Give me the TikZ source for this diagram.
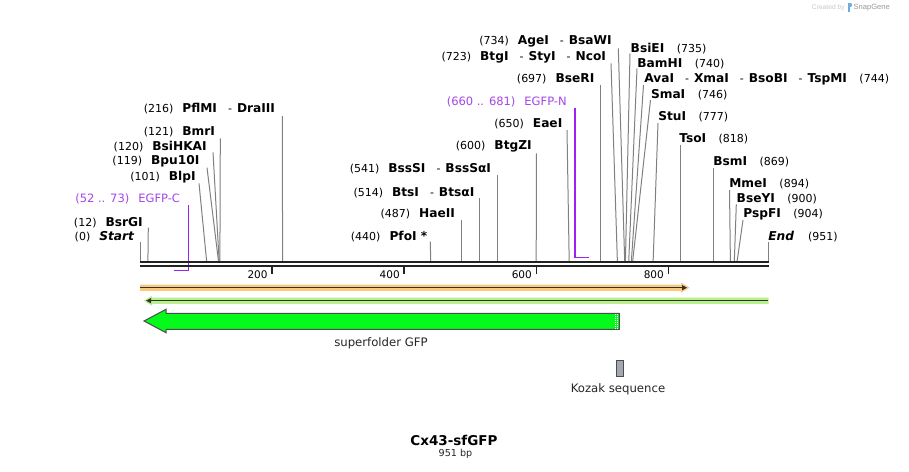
\documentclass[tikz,border=0pt]{standalone}
\usepackage{fontspec}
\setmainfont{DejaVu Sans}
\newfontfamily\wmfont{Liberation Sans}
\usetikzlibrary{arrows.meta}
\definecolor{cutgray}{HTML}{808080}
\definecolor{primer}{HTML}{A020F0}
\definecolor{primertxt}{HTML}{A546E6}
\definecolor{barblack}{HTML}{222222}
\definecolor{orhalo}{HTML}{F9C97C}
\definecolor{grhalo}{HTML}{B8F08C}
\definecolor{darkln}{HTML}{333333}
\definecolor{gfpfill}{HTML}{05F91A}
\definecolor{kozakfill}{HTML}{A3A8AE}
\definecolor{wmblue}{HTML}{6EAAE6}
\newcommand\enz[1]{{\fontsize{12.2}{14}\selectfont\bfseries #1}}
\newcommand\enzi[1]{{\fontsize{12.2}{14}\selectfont\bfseries\itshape #1}}
\newcommand\posn[1]{{\fontsize{11}{13}\selectfont(#1)}}
\newcommand\dsh{{\fontsize{11}{13}\selectfont\hspace{11pt}-\hspace{5pt}}}
\newcommand\lgap{\hspace{9pt}}
\newcommand\rgap{\hspace{12.5pt}}
\newcommand\cutsite[4]{\coordinate (#1b) at (#2,262); \coordinate (#1t) at (#3,#4); \draw[cut] (#1b) -- (#1t);}
\tikzset{
  lbl/.style={inner sep=0pt, outer sep=0pt, font=\fontsize{11}{13}\selectfont},
  cut/.style={draw=cutgray, line width=1pt},
  barline/.style={draw=barblack, line width=2.4pt},
  tick/.style={draw=barblack, line width=1.5pt},
  primerline/.style={draw=primer, line width=1.6pt},
  feat/.style={inner sep=0pt, font=\fontsize{11.7}{14}\selectfont, text=black!85},
}
\begin{document}
\begin{tikzpicture}[x=1pt,y=-1pt]
\fill[white] (0,0) rectangle (909,471);
\path[use as bounding box] (0,0) rectangle (909,471);

% watermark
\node[inner sep=0pt, anchor=west, text=black!22, font=\wmfont\fontsize{6.7}{8}\selectfont] (wm1) at (811.7,7.3) {Created by};
\fill[wmblue] (847.5,2.5) rectangle (849.5,11.5);
\fill[wmblue] (849.5,2.5) .. controls (852.5,2.5) and (852.5,7) .. (849.5,7) -- cycle;
\node[inner sep=0pt, anchor=west, text=black!40, font=\wmfont\fontsize{7.6}{9}\selectfont] (wm2) at (853.3,7.3) {SnapGene};

% cut site lines
\cutsite{c0}{140}{140}{242}
\cutsite{c12}{147.9}{148.3}{227.7}
\cutsite{c101}{206.7}{199}{183.3}
\cutsite{c119}{218.6}{207}{167.7}
\cutsite{c120}{219.2}{213}{152.3}
\cutsite{c121}{219.9}{220.3}{138.3}
\cutsite{c216}{282.6}{282.3}{116}
\cutsite{c440}{430.6}{430.4}{241.7}
\cutsite{c487}{461.6}{461.6}{220}
\cutsite{c514}{479.4}{479.4}{198.3}
\cutsite{c541}{497.3}{497.3}{175}
\cutsite{c600}{536.2}{536.4}{153.3}
\cutsite{c650}{569.2}{567}{130}
\cutsite{c697}{600.3}{600.3}{85}
\cutsite{c723}{617.4}{611}{63.3}
\cutsite{c734}{624.7}{618.3}{48.3}
\cutsite{c735}{625.4}{630}{53.5}
\cutsite{c740}{628.7}{637}{68.5}
\cutsite{c744}{631.3}{643.5}{85}
\cutsite{c746}{632.6}{650.5}{100}
\cutsite{c777}{653.1}{658}{123}
\cutsite{c818}{680.2}{680.2}{145}
\cutsite{c869}{713.9}{713.9}{168.3}
\cutsite{c894}{730.4}{729.5}{190}
\cutsite{c900}{734.3}{736.3}{204.3}
\cutsite{c904}{737.0}{743}{220}
\cutsite{c951}{768}{768}{242}

% left labels
\node[lbl, anchor=east] (L0) at (134,236.7) {\posn{0}\lgap\enzi{Start}};
\node[lbl, anchor=east] (L12) at (142.7,222.3) {\posn{12}\lgap\enz{BsrGI}};
\node[lbl, anchor=east] (L101) at (195.7,176.7) {\posn{101}\lgap\enz{BlpI}};
\node[lbl, anchor=east] (L119) at (199.3,161) {\posn{119}\lgap\enz{Bpu10I}};
\node[lbl, anchor=east] (L120) at (206.7,146.7) {\posn{120}\lgap\enz{BsiHKAI}};
\node[lbl, anchor=east] (L121) at (215,132) {\posn{121}\lgap\enz{BmrI}};
\node[lbl, anchor=east] (L216) at (275,108.3) {\posn{216}\lgap\enz{PflMI}\dsh\enz{DraIII}};
\node[lbl, anchor=east] (L440) at (427.3,236.7) {\posn{440}\lgap\enz{PfoI *}};
\node[lbl, anchor=east] (L487) at (455,213.3) {\posn{487}\lgap\enz{HaeII}};
\node[lbl, anchor=east] (L514) at (474.3,192.3) {\posn{514}\lgap\enz{BtsI}\dsh\enz{BtsαI}};
\node[lbl, anchor=east] (L541) at (491,169) {\posn{541}\lgap\enz{BssSI}\dsh\enz{BssSαI}};
\node[lbl, anchor=east] (L600) at (531.7,146.7) {\posn{600}\lgap\enz{BtgZI}};
\node[lbl, anchor=east] (L650) at (562.3,124) {\posn{650}\lgap\enz{EaeI}};
\node[lbl, anchor=east] (L697) at (594.3,79) {\posn{697}\lgap\enz{BseRI}};
\node[lbl, anchor=east] (L723) at (606,57) {\posn{723}\lgap\enz{BtgI}\dsh\enz{StyI}\dsh\enz{NcoI}};
\node[lbl, anchor=east] (L734) at (611.7,41) {\posn{734}\lgap\enz{AgeI}\dsh\enz{BsaWI}};

% right labels
\node[lbl, anchor=west] (L735) at (630.7,48.3) {\enz{BsiEI}\rgap\posn{735}};
\node[lbl, anchor=west] (L740) at (637.3,63.3) {\enz{BamHI}\rgap\posn{740}};
\node[lbl, anchor=west] (L744) at (644.3,79.3) {\enz{AvaI}\dsh\enz{XmaI}\dsh\enz{BsoBI}\dsh\enz{TspMI}\rgap\posn{744}};
\node[lbl, anchor=west] (L746) at (651,94.2) {\enz{SmaI}\rgap\posn{746}};
\node[lbl, anchor=west] (L777) at (658.3,116.7) {\enz{StuI}\rgap\posn{777}};
\node[lbl, anchor=west] (L818) at (679.3,139) {\enz{TsoI}\rgap\posn{818}};
\node[lbl, anchor=west] (L869) at (713.3,162) {\enz{BsmI}\rgap\posn{869}};
\node[lbl, anchor=west] (L894) at (729.3,183.3) {\enz{MmeI}\rgap\posn{894}};
\node[lbl, anchor=west] (L900) at (736.7,199) {\enz{BseYI}\rgap\posn{900}};
\node[lbl, anchor=west] (L904) at (743.3,214) {\enz{PspFI}\rgap\posn{904}};
\node[lbl, anchor=west] (L951) at (768.3,236.7) {\enzi{End}\hspace{14pt}\posn{951}};

% primers
\node[lbl, anchor=east, text=primertxt, font=\fontsize{11.5}{13}\selectfont] (Lpc) at (180,199) {(52 .. 73)\hspace{9pt}EGFP-C};
\coordinate (pc1) at (188.3,205); \coordinate (pc2) at (188.3,270.5); \coordinate (pc3) at (174.3,270.5);
\draw[primerline] (pc1) -- (pc2) -- (pc3);
\node[lbl, anchor=east, text=primertxt, font=\fontsize{11.5}{13}\selectfont] (Lpn) at (566.7,102.3) {(660 .. 681)\hspace{9pt}EGFP-N};
\coordinate (pn1) at (575,108.3); \coordinate (pn2) at (575,257.5); \coordinate (pn3) at (588.5,257.5);
\draw[primerline] (pn1) -- (pn2) -- (pn3);

% sequence bar
\coordinate (barL1) at (140,262.2); \coordinate (barR1) at (768.5,262.2);
\coordinate (barL2) at (140,266.2); \coordinate (barR2) at (768.5,266.2);
\draw[barline] (barL1) -- (barR1);
\draw[barline] (barL2) -- (barR2);
\foreach \tx/\tl in {272.1/200, 404.2/400, 536.3/600, 668.3/800}{
  \draw[tick] (\tx,266.5) -- (\tx,274.3);
  \node[inner sep=0pt, anchor=east, font=\fontsize{10.5}{12}\selectfont] (T\tl) at (\tx-4.3,274.3) {\tl};
}

% orange feature (forward)
\fill[orhalo] (140,284.6) -- (681,284.6) -- (681,282.6) -- (689.5,287.7) -- (681,292.8) -- (681,290.8) -- (140,290.8) -- cycle;
\coordinate (orL) at (140,287.7); \coordinate (orR) at (687,287.7);
\draw[darkln, line width=1.4pt, -{Triangle[length=5pt,width=5pt]}] (orL) -- (orR);

% green feature (reverse)
\fill[grhalo] (768.6,297.6) -- (152,297.6) -- (152,295.8) -- (143.8,300.7) -- (152,305.6) -- (152,303.8) -- (768.6,303.8) -- cycle;
\coordinate (grR) at (767.5,300.7); \coordinate (grL) at (146,300.7);
\draw[darkln, line width=1.4pt, -{Triangle[length=5pt,width=5pt]}] (grR) -- (grL);

% superfolder GFP arrow
\draw[fill=gfpfill, draw=black!70, line width=1pt] (144,321) -- (166,309.3) -- (166,313.3) -- (619.3,313.3) -- (619.3,329.3) -- (166,329.3) -- (166,332.7) -- cycle;
\draw[white, line width=0.7pt, dash pattern=on 1pt off 1pt] (615.8,314) -- (615.8,329);
\draw[white, line width=0.7pt, dash pattern=on 1pt off 1pt] (617.8,314) -- (617.8,329);
\node[feat] (gfp) at (381,343) {superfolder GFP};

% Kozak
\draw[fill=kozakfill, draw=black!70, line width=1pt] (616.5,360.3) rectangle (623.5,376.5);
\node[feat] (koz) at (618,389.3) {Kozak sequence};

% title
\node[inner sep=0pt, font=\fontsize{13.5}{16}\selectfont\bfseries] (title) at (454,440) {Cx43-sfGFP};
\node[inner sep=0pt, font=\fontsize{9.6}{12}\selectfont, text=black!85] (bp) at (455.5,453.8) {951 bp};
\end{tikzpicture}
\end{document}
